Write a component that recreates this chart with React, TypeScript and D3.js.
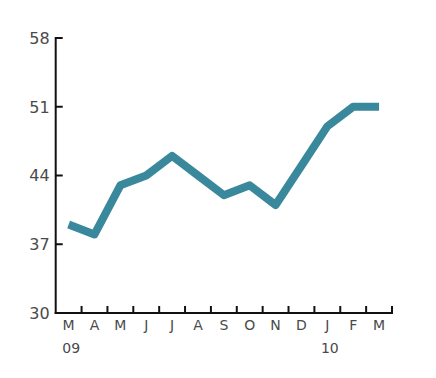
import React from "react";
import * as d3 from "d3";

const months = ["M", "A", "M", "J", "J", "A", "S", "O", "N", "D", "J", "F", "M"];
const years = ["09", "", "", "", "", "", "", "", "", "", "10", "", ""];
const values = [39, 38, 43, 44, 46, 44, 42, 43, 41, 45, 49, 51, 51];
const yTicks = [30, 37, 44, 51, 58];

export default function App() {
  const W = 436, H = 378;
  const left = 55.7, right = 392, top = 38, bottom = 313;
  const idx = months.map((_, i) => String(i));
  const x = d3.scaleBand<string>().domain(idx).range([left, right]);
  const y = d3.scaleLinear().domain([30, 58]).range([bottom, top]);
  const line = d3
    .line<number>()
    .x((_, i) => (x(String(i)) as number) + x.bandwidth() / 2)
    .y((d) => y(d));
  const font = "'DejaVu Sans', Verdana, sans-serif";
  return (
    <svg width={W} height={H} style={{ position: "absolute", left: 0, top: 0 }}>
      <rect width={W} height={H} fill="#fff" />
      <path d={line(values) || ""} fill="none" stroke="#3a889b" strokeWidth={8} strokeLinejoin="round" />
      {/* y axis */}
      <line x1={left} x2={left} y1={top - 1} y2={bottom + 1} stroke="#111" strokeWidth={2} />
      {yTicks.map((t) => (
        <g key={t}>
          <line x1={left} x2={left + 7} y1={y(t)} y2={y(t)} stroke="#111" strokeWidth={2} />
          <text x={left - 6} y={y(t)} dy="0.36em" textAnchor="end" fontFamily={font} fontSize={16} fill="#4a4a4a">
            {t}
          </text>
        </g>
      ))}
      {/* x axis */}
      <line x1={left - 1} x2={right + 1} y1={bottom} y2={bottom} stroke="#111" strokeWidth={2} />
      {idx.map((k, i) => {
        const x0 = x(k) as number;
        const xe = x0 + x.bandwidth();
        const xc = x0 + x.bandwidth() / 2;
        return (
          <g key={k}>
            <line x1={xe} x2={xe} y1={bottom} y2={bottom - 7} stroke="#111" strokeWidth={2} />
            <text x={xc} y={330} textAnchor="middle" fontFamily={font} fontSize={14} fill="#4a4a4a">
              {months[i]}
            </text>
            {years[i] && (
              <text x={xc + 2.5} y={353} textAnchor="middle" fontFamily={font} fontSize={14} fill="#4a4a4a">
                {years[i]}
              </text>
            )}
          </g>
        );
      })}
    </svg>
  );
}
